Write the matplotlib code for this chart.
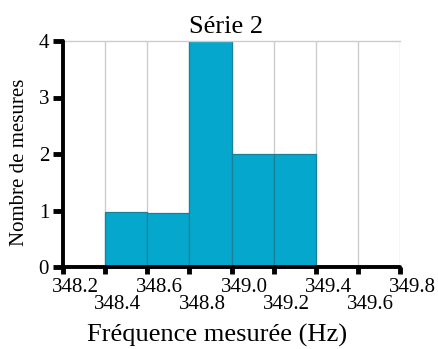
import numpy as np
import matplotlib
matplotlib.use('Agg')
import matplotlib.pyplot as plt

plt.rcParams['font.family'] = ['Liberation Serif', 'DejaVu Serif']

# data
edges = [348.2, 348.4, 348.6, 348.8, 349.0, 349.2, 349.4, 349.6, 349.8]
bar_left = [348.4, 348.6, 348.8, 349.0, 349.2]
counts = [0.97, 0.95, 4, 2, 2]
yticks = [0, 1, 2, 3, 4]
bin_width = 0.2

fig = plt.figure(figsize=(4.38, 3.49), dpi=100)
ax = fig.add_axes([63/438, 1-267/349, (400-63)/438, (267-41)/349])

ax.bar(bar_left, counts, width=bin_width, align='edge', color='#05a8cc',
       edgecolor='#1b7f97', linewidth=0.9, zorder=2)

ax.set_xlim(edges[0], edges[-1])
ax.set_ylim(0, 4)
ax.set_xticks(edges)
ax.set_yticks(yticks)
ax.set_xticklabels([])
ax.set_yticklabels([str(v) for v in yticks], fontsize=15)
ax.tick_params(axis='x', direction='out', length=5, width=3.5)
ax.tick_params(axis='y', direction='out', length=7, width=3.5, pad=3)

ax.grid(axis='x', color='#cccccc', linewidth=1, zorder=0)
for s in ['left', 'bottom']:
    ax.spines[s].set_linewidth(2.8)
    ax.spines[s].set_zorder(4)
    ax.spines[s].set_capstyle('round')
ax.spines['top'].set_color('#cccccc')
ax.spines['top'].set_linewidth(1)
ax.spines['right'].set_visible(False)

# staggered tick labels
trans = ax.get_xaxis_transform()
for i, e in enumerate(edges):
    dy = -0.05 if i % 2 == 0 else -0.125
    ax.text(e + 0.06, dy, '%.1f' % e, transform=trans, ha='center',
            va='top', fontsize=15)

fig.text(217/438, 7/349, 'Fréquence mesurée (Hz)', fontsize=19,
         ha='center', va='baseline')
fig.text(20/438, 1-162/349, 'Nombre de mesures', fontsize=15,
         rotation=90, ha='center', va='center')
ax.set_title('Série 2', fontsize=19, pad=6, x=0.485)

plt.savefig('out.png', dpi=100)
